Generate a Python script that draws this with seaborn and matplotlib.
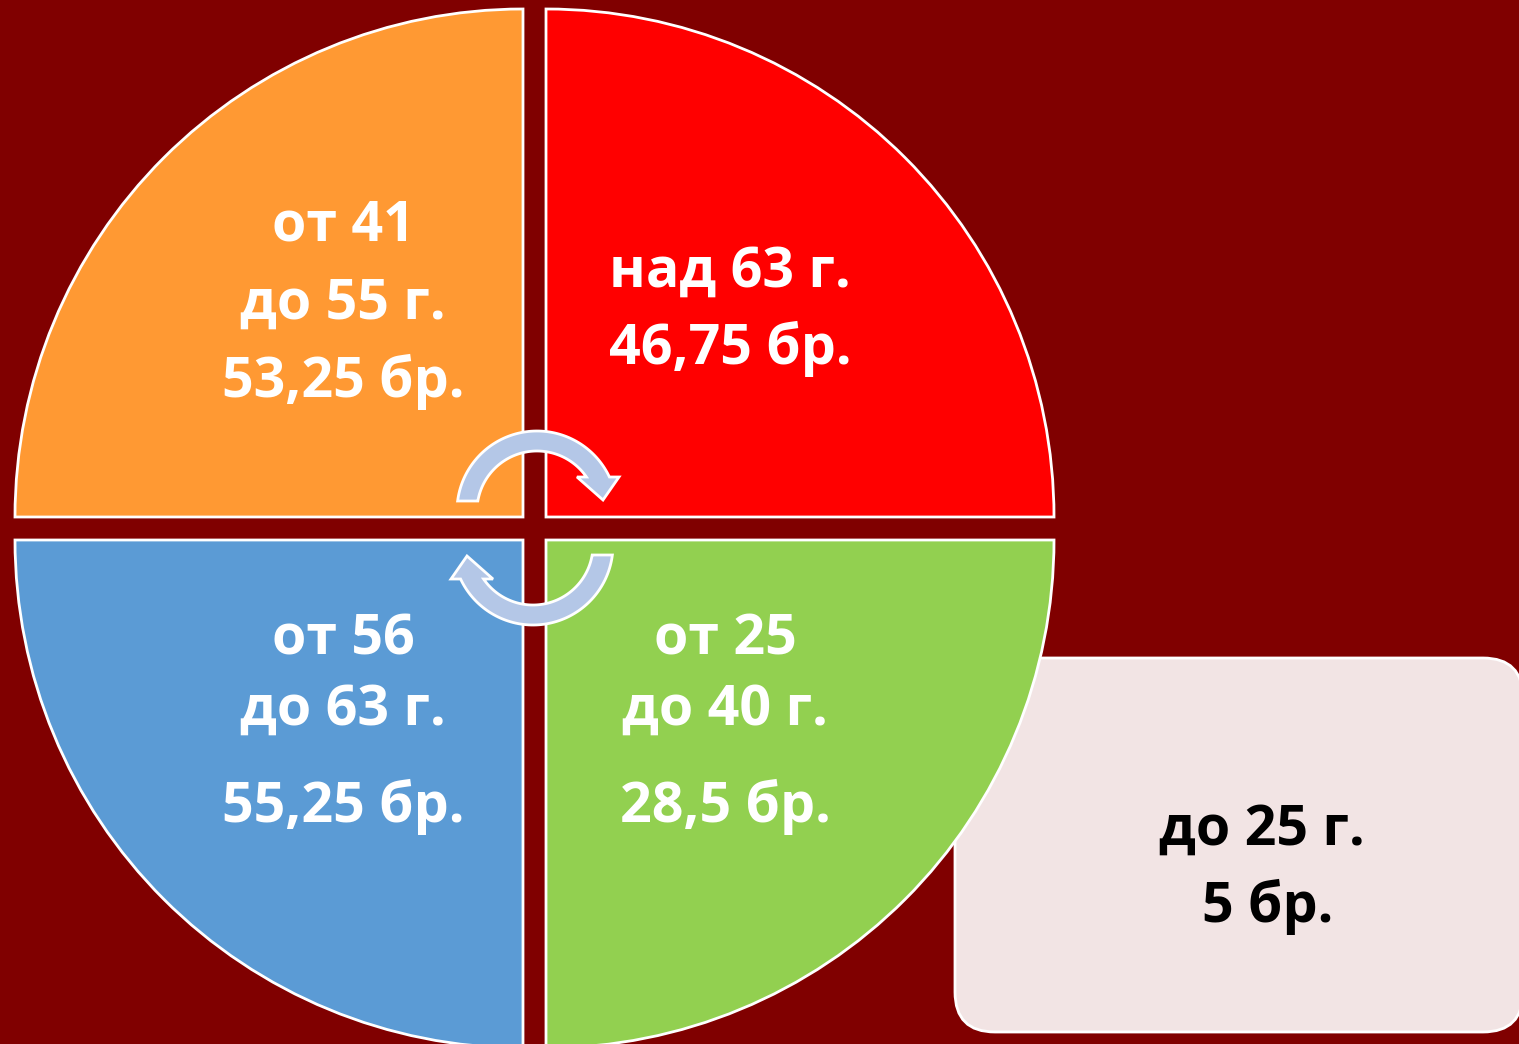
import numpy as np
import matplotlib
matplotlib.use("Agg")
import matplotlib.pyplot as plt
from matplotlib.patches import Wedge, FancyBboxPatch, Polygon
import seaborn as sns

# age groups and number of cases (бр.)
groups = ['от 41\nдо 55 г.', 'над 63 г.', 'от 56\nдо 63 г.', 'от 25\nдо 40 г.']
counts = [53.25, 46.75, 55.25, 28.5]
extra_group = 'до 25 г.'
extra_count = 5

sns.set_style('white')
plt.rcParams['font.family'] = ['Open Sans', 'DejaVu Sans']

colors = sns.color_palette(['#FF9933', '#FF0000', '#5B9BD5', '#92D050'])
bg = '#800000'

W, H = 1519, 1044
fig = plt.figure(figsize=(W / 100, H / 100), dpi=100, facecolor=bg)
ax = fig.add_axes([0, 0, 1, 1])
ax.set_xlim(0, W)
ax.set_ylim(0, H)
ax.set_facecolor(bg)
ax.axis('off')


def fmt(v):
    return ('%g' % v).replace('.', ',') + ' бр.'


def y(v):
    # pixel row (from top) -> data y
    return H - v - 4


# the box for the youngest group, partly hidden by the circle
ax.add_patch(FancyBboxPatch((995, 52), 488, 294, boxstyle='round,pad=40',
                            fc='#F2E4E4', ec='white', lw=2, zorder=1))
txt_kw = dict(ha='center', va='center', fontsize=40, fontweight='bold', zorder=5)
ax.text(1262, y(826), extra_group, color='black', **txt_kw)
ax.text(1268, y(903), fmt(extra_count), color='black', **txt_kw)

# four quarters of the circle
R = 508
corners = [(523, 527), (546, 527), (523, 504), (546, 504)]
angles = [(90, 180), (0, 90), (180, 270), (270, 360)]
for (cx, cy), (a1, a2), c in zip(corners, angles, colors):
    ax.add_patch(Wedge((cx, cy), R, a1, a2, fc=c, ec='white', lw=2, zorder=2))


# circular arrows in the middle
def arrow_poly(cx, cy, ro, ri, tail_dy, head_dy, head):
    to = np.pi - np.arcsin(tail_dy / ro)
    ti = np.pi - np.arcsin(tail_dy / ri)
    ho = np.arcsin(head_dy / ro)
    hi = np.arcsin(head_dy / ri)
    outer = [(cx + ro * np.cos(t), cy + ro * np.sin(t)) for t in np.linspace(to, ho, 80)]
    inner = [(cx + ri * np.cos(t), cy + ri * np.sin(t)) for t in np.linspace(hi, ti, 80)]
    return np.array(outer + head + inner)


top = arrow_poly(537, H - 511, 80, 60, 10, 34,
                 [(619, H - 477), (603, H - 500), (577, H - 477)])
piv = np.array([535, H - 528])
bottom = 2 * piv - top
for pts in (top, bottom):
    ax.add_patch(Polygon(pts, closed=True, fc='#B4C7E7', ec='white', lw=2, zorder=3))

# labels inside the quarters
lab_kw = dict(txt_kw, color='white')
ax.text(343, y(222), groups[0].split('\n')[0], **lab_kw)
ax.text(343, y(300), groups[0].split('\n')[1], **lab_kw)
ax.text(343, y(378), fmt(counts[0]), **lab_kw)

lab_kw_l = dict(lab_kw, ha='left')
ax.text(609, y(268), groups[1], **lab_kw_l)
ax.text(609, y(345), fmt(counts[1]), **lab_kw_l)

ax.text(343, y(636), groups[2].split('\n')[0], **lab_kw)
ax.text(343, y(706), groups[2].split('\n')[1], **lab_kw)
ax.text(343, y(803), fmt(counts[2]), **lab_kw)

ax.text(725, y(636), groups[3].split('\n')[0], **lab_kw)
ax.text(725, y(706), groups[3].split('\n')[1], **lab_kw)
ax.text(725, y(803), fmt(counts[3]), **lab_kw)

fig.savefig('out.png', dpi=100, facecolor=bg)
